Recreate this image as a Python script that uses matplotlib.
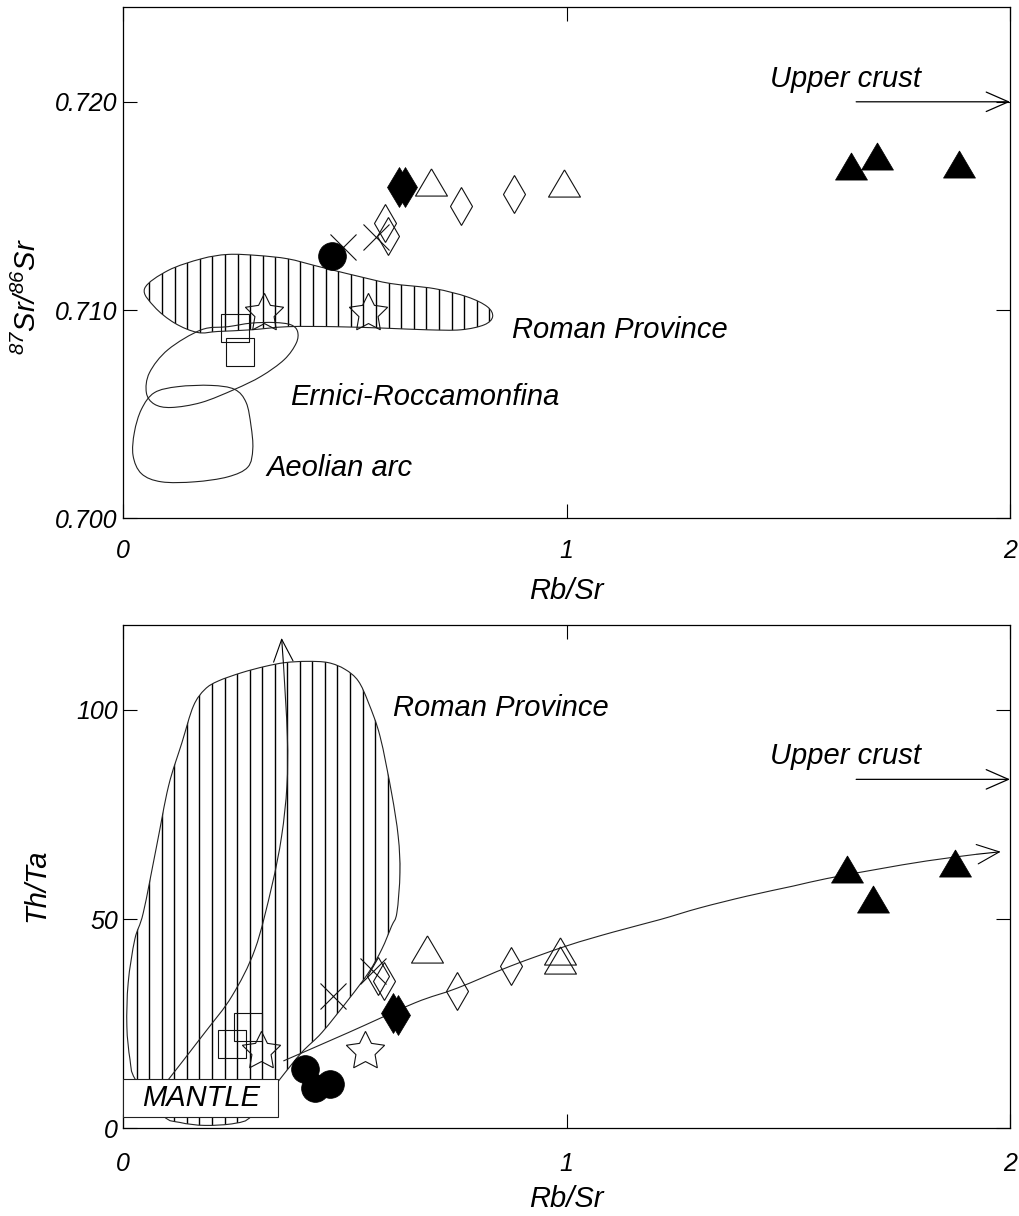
import numpy as np
import matplotlib
matplotlib.use("Agg")
import matplotlib.pyplot as plt
from matplotlib.path import Path
from matplotlib.patches import PathPatch, Rectangle

plt.rcParams['font.family'] = ['Liberation Sans', 'DejaVu Sans']
plt.rcParams['font.style'] = 'italic'
plt.rcParams['mathtext.fontset'] = 'custom'
plt.rcParams['mathtext.it'] = 'Liberation Sans:italic'
plt.rcParams['mathtext.rm'] = 'Liberation Sans'

# ---------------- upper panel : 87Sr/86Sr vs Rb/Sr ----------------
sr_ticks = [0.700, 0.710, 0.720]
sr_ticklabels = ['0.700', '0.710', '0.720']
rb_ticks = [0, 1, 2]
rb_ticklabels = ['0', '1', '2']

sr_sq_x = [0.252, 0.263]
sr_sq_y = [0.70915, 0.70797]
sr_star_x = [0.318, 0.553]
sr_star_y = [0.70984, 0.70984]
sr_circ_x = [0.471]
sr_circ_y = [0.71259]
sr_cross_x = [0.495, 0.570]
sr_cross_y = [0.71304, 0.71349]
sr_odia_x = [0.590, 0.598, 0.762, 0.882]
sr_odia_y = [0.71416, 0.71355, 0.71499, 0.71555]
sr_fdia_x = [0.622, 0.635]
sr_fdia_y = [0.71592, 0.71592]
sr_otri_x = [0.695, 0.994]
sr_otri_y = [0.71613, 0.71608]
sr_ftri_x = [1.641, 1.700, 1.885]
sr_ftri_y = [0.71693, 0.71742, 0.71699]

# field outlines (Rb/Sr, 87Sr/86Sr)
roman_sr_x = [0.048, 0.101, 0.176, 0.236, 0.303, 0.371, 0.431, 0.476, 0.536, 0.604, 0.701, 0.776, 0.821,
              0.833, 0.814, 0.761, 0.686, 0.589, 0.476, 0.371, 0.288, 0.213, 0.168, 0.116, 0.070]
roman_sr_y = [0.71103, 0.71190, 0.71246, 0.71267, 0.71262, 0.71246, 0.71214, 0.71190, 0.71159, 0.71127,
              0.71103, 0.71063, 0.71016, 0.70968, 0.70929, 0.70905, 0.70905, 0.70913, 0.70920, 0.70920,
              0.70905, 0.70897, 0.70892, 0.70937, 0.71016]
ernici_x = [0.176, 0.101, 0.059, 0.052, 0.070, 0.108, 0.176, 0.251, 0.311, 0.363, 0.390, 0.393, 0.378,
            0.341, 0.288, 0.236]
ernici_y = [0.70905, 0.70810, 0.70699, 0.70603, 0.70548, 0.70532, 0.70556, 0.70619, 0.70682, 0.70762,
            0.70841, 0.70897, 0.70929, 0.70940, 0.70937, 0.70920]
aeolian_x = [0.070, 0.123, 0.198, 0.251, 0.277, 0.288, 0.292, 0.281, 0.236, 0.161, 0.086, 0.041, 0.022,
             0.025, 0.041]
aeolian_y = [0.70603, 0.70632, 0.70638, 0.70619, 0.70556, 0.70444, 0.70333, 0.70246, 0.70199, 0.70175,
             0.70175, 0.70214, 0.70301, 0.70413, 0.70524]

# ---------------- lower panel : Th/Ta vs Rb/Sr ----------------
th_ticks = [0, 50, 100]
th_ticklabels = ['0', '50', '100']

th_sq_x = [0.282, 0.245]
th_sq_y = [24.1, 20.1]
th_star_x = [0.310, 0.545]
th_star_y = [18.5, 18.5]
th_circ_x = [0.410, 0.432, 0.466]
th_circ_y = [14.1, 9.7, 10.5]
th_cross_x = [0.474, 0.564]
th_cross_y = [31.6, 37.6]
th_odia_x = [0.575, 0.587, 0.753, 0.874]
th_odia_y = [36.4, 35.2, 32.8, 38.8]
th_fdia_x = [0.609, 0.620]
th_fdia_y = [27.6, 27.2]
th_otri_x = [0.684, 0.985, 0.985]
th_otri_y = [42.8, 42.3, 40.2]
th_ftri_x = [1.632, 1.690, 1.875]
th_ftri_y = [62.0, 54.8, 63.4]

roman_th_x = [0.158, 0.184, 0.214, 0.267, 0.320, 0.365, 0.414, 0.462, 0.500, 0.530, 0.553, 0.579, 0.605,
              0.620, 0.624, 0.617, 0.605, 0.583, 0.553, 0.508, 0.448, 0.402, 0.350, 0.290, 0.252, 0.184,
              0.128, 0.090, 0.027, 0.015, 0.008, 0.011, 0.026, 0.045, 0.075, 0.102, 0.132]
roman_th_y = [100.9, 104.9, 106.9, 108.9, 110.4, 111.3, 111.6, 111.3, 109.7, 106.9, 101.7, 93.7, 80.2,
              69.8, 61.1, 51.5, 48.3, 42.8, 37.2, 30.8, 22.9, 18.1, 11.3, 3.0, 1.2, 0.7,
              1.4, 3.0, 11.7, 16.5, 24.4, 34.8, 45.2, 51.5, 67.4, 81.8, 92.1]
mantle_up_x = [0.102, 0.184, 0.245, 0.297, 0.335, 0.357, 0.369, 0.370, 0.361, 0.357]
mantle_up_y = [11.7, 22.9, 31.6, 42.8, 57.9, 69.8, 81.8, 93.7, 111.3, 117.2]
trend_x = [0.361, 0.508, 0.658, 0.753, 0.874, 1.000, 1.105, 1.211, 1.301, 1.407, 1.511, 1.587, 1.700,
           1.812, 1.925, 1.979]
trend_y = [16.1, 22.9, 30.0, 33.5, 38.8, 43.6, 46.9, 49.9, 52.7, 55.5, 57.9, 59.7, 61.9, 63.9, 65.5, 66.1]
mantle_box = (0.0, 2.6, 0.350, 9.1)   # x, y, width, height


def smooth_path(xs, ys, closed=False):
    # catmull-rom through the read points, drawn as bezier segments
    p = np.column_stack([xs, ys]).astype(float)
    n = len(p)
    if closed:
        pts = np.vstack([p[-1], p, p[0], p[1]])
        nseg = n
    else:
        pts = np.vstack([p[0], p, p[-1]])
        nseg = n - 1
    verts = [pts[1]]
    codes = [Path.MOVETO]
    for i in range(1, nseg + 1):
        p0, p1, p2, p3 = pts[i - 1], pts[i], pts[i + 1], pts[i + 2]
        verts += [p1 + (p2 - p0) / 6, p2 - (p3 - p1) / 6, p2]
        codes += [Path.CURVE4] * 3
    if closed:
        verts.append(pts[1])
        codes.append(Path.CLOSEPOLY)
    return Path(verts, codes)


def outline(ax, xs, ys, hatch_step=None, ylo=0, yhi=1):
    patch = PathPatch(smooth_path(xs, ys, closed=True), fc='none', ec='#222222', lw=0.8, zorder=2)
    ax.add_patch(patch)
    if hatch_step:
        hx = np.arange(0.002, 2, hatch_step)
        lines = ax.vlines(hx, ylo, yhi, colors='black', lw=1.0, zorder=1.5)
        lines.set_clip_path(patch)


def arrow(ax, p_from, p_to, lw=0.9):
    ax.annotate('', xy=p_to, xytext=p_from,
                arrowprops=dict(arrowstyle='->,head_length=0.8,head_width=0.35', lw=lw,
                                color='black', mutation_scale=20, shrinkA=0, shrinkB=0))


TRI = [(0, 0.85), (-1, -0.85), (1, -0.85), (0, 0.85)]
OPEN = dict(mfc='none', mec='#111111', mew=0.8)
FILLED = dict(mfc='black', mec='black', mew=0.5)


def samples(ax, sq, star, circ, cross, odia, fdia, otri, ftri):
    ax.plot(*sq, ls='none', marker='s', ms=20, zorder=4, **OPEN)
    ax.plot(*star, ls='none', marker=(5, 1, 0), ms=29, zorder=4, **OPEN)
    ax.plot(*cross, ls='none', marker='x', ms=19, mec='#111111', mew=0.8, zorder=4)
    ax.plot(*odia, ls='none', marker='d', ms=19.5, zorder=4, **OPEN)
    ax.plot(*otri, ls='none', marker=TRI, ms=23, zorder=4, **OPEN)
    ax.plot(*circ, ls='none', marker='o', ms=20, zorder=5, **FILLED)
    ax.plot(*fdia, ls='none', marker='d', ms=20, zorder=5, **FILLED)
    ax.plot(*ftri, ls='none', marker=TRI, ms=23, zorder=5, **FILLED)


def style_axes(ax, yt, ytl, xpad, xlab_y):
    ax.set_xlim(0, 2)
    ax.set_xticks(rb_ticks)
    ax.set_xticklabels(rb_ticklabels)
    ax.set_yticks(yt)
    ax.set_yticklabels(ytl)
    ax.tick_params(direction='in', length=10, width=0.8, top=True, right=True, labelsize=18)
    ax.tick_params(axis='x', pad=xpad)
    ax.tick_params(axis='y', pad=4)
    for s in ax.spines.values():
        s.set_linewidth(0.9)
    ax.set_xlabel('Rb/Sr', fontsize=21)
    ax.xaxis.set_label_coords(0.5, xlab_y)


fig = plt.figure(figsize=(10.2, 12.16), dpi=100)

# upper
ax1 = fig.add_axes([0.1209, 0.5738, 0.8693, 0.4204])
ax1.set_ylim(0.700, 0.72455)
style_axes(ax1, sr_ticks, sr_ticklabels, 15, -0.115)
ax1.set_ylabel(r'$^{87}Sr/^{86}Sr$', fontsize=21)
ax1.yaxis.set_label_coords(-0.092, 0.433)
outline(ax1, roman_sr_x, roman_sr_y, hatch_step=0.0284, ylo=0.700, yhi=0.7244)
outline(ax1, ernici_x, ernici_y)
outline(ax1, aeolian_x, aeolian_y)
samples(ax1, (sr_sq_x, sr_sq_y), (sr_star_x, sr_star_y), (sr_circ_x, sr_circ_y), (sr_cross_x, sr_cross_y),
        (sr_odia_x, sr_odia_y), (sr_fdia_x, sr_fdia_y), (sr_otri_x, sr_otri_y), (sr_ftri_x, sr_ftri_y))
ax1.text(1.459, 0.72069, 'Upper crust', fontsize=21)
arrow(ax1, (1.653, 0.7200), (2.0, 0.7200))
ax1.text(0.876, 0.70864, 'Roman Province', fontsize=21)
ax1.text(0.376, 0.70544, 'Ernici-Roccamonfina', fontsize=21)
ax1.text(0.323, 0.70203, 'Aeolian arc', fontsize=21)

# lower
ax2 = fig.add_axes([0.1209, 0.0721, 0.8693, 0.4143])
ax2.set_ylim(0, 120.4)
style_axes(ax2, th_ticks, th_ticklabels, 17, -0.112)
ax2.set_ylabel('Th/Ta', fontsize=21)
ax2.yaxis.set_label_coords(-0.082, 0.483)
outline(ax2, roman_th_x, roman_th_y, hatch_step=0.0283, ylo=0, yhi=120)
ax2.add_patch(PathPatch(smooth_path(mantle_up_x[:-1], mantle_up_y[:-1]), fc='none', ec='#222222',
                        lw=0.8, zorder=3))
arrow(ax2, (mantle_up_x[-2], mantle_up_y[-2]), (mantle_up_x[-1], mantle_up_y[-1]), lw=0.8)
ax2.add_patch(PathPatch(smooth_path(trend_x[:-1], trend_y[:-1]), fc='none', ec='#222222', lw=0.8, zorder=3))
arrow(ax2, (trend_x[-2], trend_y[-2]), (trend_x[-1], trend_y[-1]), lw=0.8)
ax2.add_patch(Rectangle(mantle_box[:2], mantle_box[2], mantle_box[3], fc='white', ec='#222222',
                        lw=0.8, zorder=3.5))
ax2.text(mantle_box[0] + mantle_box[2] / 2, mantle_box[1] + mantle_box[3] / 2, 'MANTLE', fontsize=21,
         ha='center', va='center', zorder=3.6)
samples(ax2, (th_sq_x, th_sq_y), (th_star_x, th_star_y), (th_circ_x, th_circ_y), (th_cross_x, th_cross_y),
        (th_odia_x, th_odia_y), (th_fdia_x, th_fdia_y), (th_otri_x, th_otri_y), (th_ftri_x, th_ftri_y))
ax2.text(1.459, 87.1, 'Upper crust', fontsize=21)
arrow(ax2, (1.653, 83.4), (2.0, 83.4))
ax2.text(0.609, 98.5, 'Roman Province', fontsize=21)

fig.savefig('out.png', dpi=100)
